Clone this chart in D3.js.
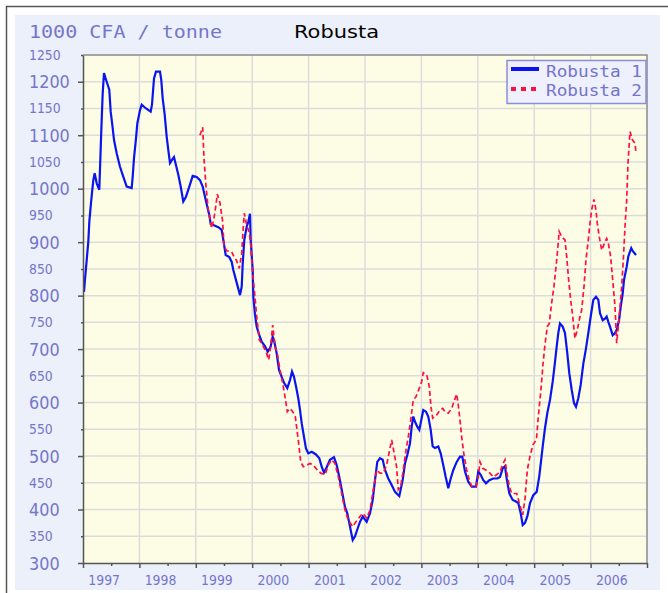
<!DOCTYPE html>
<html>
<head>
<meta charset="utf-8">
<script src="https://cdn.jsdelivr.net/npm/d3@7"></script>
<style>
  html, body { margin: 0; padding: 0; background: #ffffff; }
  svg { display: block; }
</style>
</head>
<body>
<svg id="chart" width="668" height="593"></svg>
<script>
// ---------- DATA ----------
const yTickValues = [300,350,400,450,500,550,600,650,700,750,800,850,900,950,1000,1050,1100,1150,1200,1250];
const yearLabels = ["1997","1998","1999","2000","2001","2002","2003","2004","2005","2006"];
const seriesNames = ["Robusta 1","Robusta 2"];

// Robusta 1 : time (decimal year) and value (1000 CFA / tonne)
const r1Time = [1997.018,1997.035,1997.066,1997.094,1997.112,1997.137,1997.160,1997.183,1997.207,1997.243,1997.289,1997.301,1997.324,1997.349,1997.372,1997.420,1997.466,1997.491,1997.527,1997.550,1997.598,1997.656,1997.715,1997.775,1997.863,1997.881,1997.904,1997.940,1997.963,1998.011,1998.041,1998.117,1998.200,1998.223,1998.259,1998.294,1998.365,1998.388,1998.413,1998.449,1998.484,1998.520,1998.543,1998.578,1998.613,1998.649,1998.690,1998.732,1998.778,1998.826,1998.885,1998.945,1999.016,1999.074,1999.122,1999.163,1999.204,1999.239,1999.264,1999.310,1999.399,1999.459,1999.488,1999.530,1999.594,1999.637,1999.665,1999.713,1999.784,1999.814,1999.832,1999.860,1999.902,1999.931,1999.961,1999.973,2000.009,2000.020,2000.050,2000.080,2000.126,2000.168,2000.227,2000.275,2000.328,2000.363,2000.392,2000.434,2000.475,2000.523,2000.569,2000.622,2000.670,2000.706,2000.741,2000.777,2000.817,2000.848,2000.878,2000.918,2000.954,2000.995,2001.055,2001.131,2001.190,2001.232,2001.273,2001.321,2001.379,2001.450,2001.498,2001.544,2001.587,2001.645,2001.686,2001.734,2001.782,2001.823,2001.871,2001.911,2001.959,2002.030,2002.089,2002.137,2002.177,2002.218,2002.266,2002.314,2002.355,2002.413,2002.473,2002.532,2002.608,2002.668,2002.709,2002.750,2002.798,2002.828,2002.856,2002.887,2002.927,2002.963,2003.005,2003.034,2003.082,2003.122,2003.165,2003.200,2003.241,2003.300,2003.342,2003.388,2003.431,2003.477,2003.520,2003.566,2003.626,2003.684,2003.725,2003.773,2003.831,2003.892,2003.968,2004.009,2004.051,2004.098,2004.145,2004.204,2004.275,2004.346,2004.394,2004.441,2004.482,2004.512,2004.559,2004.619,2004.677,2004.718,2004.761,2004.796,2004.837,2004.878,2004.926,2004.984,2005.044,2005.090,2005.151,2005.191,2005.232,2005.280,2005.328,2005.369,2005.399,2005.427,2005.457,2005.505,2005.546,2005.587,2005.622,2005.665,2005.706,2005.741,2005.782,2005.824,2005.871,2005.918,2005.959,2006.002,2006.048,2006.096,2006.137,2006.167,2006.215,2006.255,2006.285,2006.314,2006.344,2006.392,2006.433,2006.463,2006.504,2006.534,2006.569,2006.592,2006.640,2006.668,2006.720,2006.743,2006.805];
const r1Value = [807,830,867,901,938,968,993,1016,1029,1010,998,1036,1107,1178,1216,1200,1185,1144,1113,1091,1066,1041,1022,1004,1001,1022,1057,1094,1122,1147,1157,1150,1144,1157,1206,1219,1219,1203,1169,1138,1097,1066,1048,1054,1059,1044,1026,1004,976,985,1004,1024,1022,1016,1004,985,966,951,934,932,928,923,904,876,872,863,848,829,801,817,860,904,929,938,953,904,848,798,764,742,726,714,705,695,705,723,714,692,661,648,636,627,642,658,648,630,608,586,561,536,514,505,508,503,496,480,469,479,493,498,483,461,437,405,393,368,343,350,365,377,387,377,393,418,455,489,496,493,474,458,446,433,425,455,486,502,524,555,574,564,555,549,571,586,583,574,549,518,515,518,505,483,461,440,458,474,489,499,499,471,452,443,443,471,465,455,449,455,458,458,461,477,481,458,430,418,415,412,393,371,375,387,412,427,433,462,518,552,580,605,639,676,705,730,748,742,730,692,655,624,599,592,608,633,673,701,730,761,792,798,792,767,754,757,761,751,742,726,730,736,754,779,804,829,854,873,889,884,876];

// Robusta 2
const r2Time = [1999.074,1999.122,1999.145,1999.181,1999.222,1999.282,1999.323,1999.358,1999.381,1999.429,1999.477,1999.500,1999.548,1999.637,1999.677,1999.725,1999.771,1999.814,1999.842,1999.860,1999.902,1999.949,1999.973,2000.002,2000.032,2000.080,2000.126,2000.168,2000.245,2000.293,2000.328,2000.363,2000.404,2000.445,2000.493,2000.541,2000.582,2000.622,2000.670,2000.718,2000.764,2000.817,2000.860,2000.906,2000.966,2001.025,2001.083,2001.154,2001.215,2001.291,2001.349,2001.410,2001.468,2001.527,2001.587,2001.645,2001.704,2001.782,2001.840,2001.911,2001.959,2002.030,2002.089,2002.147,2002.207,2002.266,2002.324,2002.383,2002.413,2002.473,2002.518,2002.560,2002.590,2002.633,2002.679,2002.727,2002.767,2002.810,2002.856,2002.904,2002.963,2003.005,2003.034,2003.094,2003.140,2003.170,2003.200,2003.271,2003.330,2003.378,2003.418,2003.477,2003.537,2003.578,2003.626,2003.654,2003.684,2003.714,2003.755,2003.803,2003.849,2003.892,2003.968,2004.009,2004.039,2004.087,2004.158,2004.216,2004.275,2004.332,2004.394,2004.452,2004.482,2004.512,2004.559,2004.601,2004.690,2004.736,2004.796,2004.837,2004.878,2004.926,2004.981,2005.039,2005.074,2005.122,2005.157,2005.191,2005.232,2005.268,2005.309,2005.350,2005.387,2005.410,2005.443,2005.487,2005.546,2005.576,2005.606,2005.647,2005.683,2005.723,2005.764,2005.812,2005.842,2005.883,2005.918,2005.959,2005.989,2006.018,2006.059,2006.096,2006.119,2006.154,2006.197,2006.225,2006.255,2006.285,2006.314,2006.356,2006.392,2006.433,2006.463,2006.491,2006.521,2006.551,2006.580,2006.610,2006.640,2006.663,2006.699,2006.743,2006.787,2006.805];
const r2Value = [1100,1115,1057,1004,960,926,945,970,990,973,938,892,884,882,873,865,851,879,929,954,932,917,898,848,817,761,717,711,695,680,705,745,705,692,661,636,611,583,589,583,574,530,489,480,483,486,483,474,468,465,483,493,486,461,430,399,380,368,377,387,393,384,399,437,474,468,468,483,499,530,505,480,437,443,474,511,536,567,605,611,627,639,656,652,630,592,571,577,586,589,583,580,589,602,616,595,567,536,502,474,455,443,443,461,489,477,473,468,461,465,471,487,493,471,443,430,430,412,390,420,474,500,522,530,575,627,673,708,742,748,786,817,854,879,920,910,904,873,835,792,761,720,736,761,773,817,867,904,935,960,980,960,935,910,885,892,901,907,898,873,829,779,711,742,779,817,867,929,979,1047,1107,1091,1085,1068];

// ---------- LAYOUT ----------
const W = 668, H = 593;
const plot = { left: 83, right: 647, top: 55, bottom: 563 };
const colPanel = "#ecf0fa", colPlot = "#fdfde6", colGrid = "#dcdcdc";
const colLabel = "#7575cc";

const svg = d3.select("#chart");

const x = d3.scaleLinear().domain([1997, 2007]).range([plot.left, plot.right]);
const y = d3.scaleLinear().domain([300, 1250]).range([plot.bottom, plot.top]);

// outer frame and panel
svg.append("rect").attr("x", 0).attr("y", 0).attr("width", W).attr("height", H).attr("fill", "#ffffff");
svg.append("rect").attr("x", 6.5).attr("y", 6.5).attr("width", W + 20).attr("height", H + 20)
  .attr("fill", "#ffffff").attr("stroke", "#555555").attr("stroke-width", 1.5);
svg.append("rect").attr("x", 15).attr("y", 15).attr("width", 645).attr("height", 575).attr("fill", colPanel);

// plot background
svg.append("rect").attr("x", plot.left).attr("y", plot.top)
  .attr("width", plot.right - plot.left).attr("height", plot.bottom - plot.top).attr("fill", colPlot);

// grid
const grid = svg.append("g");
grid.selectAll("line.h").data(yTickValues.filter(v => v > 300 && v < 1250)).enter().append("line")
  .attr("x1", plot.left).attr("x2", plot.right)
  .attr("y1", d => y(d)).attr("y2", d => y(d))
  .attr("stroke", colGrid).attr("stroke-width", 1.5);
const yearBounds = d3.range(1998, 2007);
grid.selectAll("line.v").data(yearBounds).enter().append("line")
  .attr("y1", plot.top).attr("y2", plot.bottom)
  .attr("x1", d => x(d)).attr("x2", d => x(d))
  .attr("stroke", colGrid).attr("stroke-width", 1.5);

// top / right border
svg.append("path")
  .attr("d", `M${plot.left},${plot.top}H${plot.right}V${plot.bottom}`)
  .attr("fill", "none").attr("stroke", "#8a8a8a").attr("stroke-width", 1.5);

// lines
const line = d3.line().x(d => x(d[0])).y(d => y(d[1]));
const r1 = r1Time.map((t, i) => [t, r1Value[i]]);
const r2 = r2Time.map((t, i) => [t, r2Value[i]]);

svg.append("clipPath").attr("id", "clip").append("rect")
  .attr("x", plot.left).attr("y", plot.top).attr("width", plot.right - plot.left).attr("height", plot.bottom - plot.top);

svg.append("path").datum(r1).attr("d", line)
  .attr("fill", "none").attr("stroke", "#0a14f0").attr("stroke-width", 2.2)
  .attr("stroke-linejoin", "miter").attr("clip-path", "url(#clip)");
svg.append("path").datum(r2).attr("d", line)
  .attr("fill", "none").attr("stroke", "#ff1040").attr("stroke-width", 1.7)
  .attr("stroke-dasharray", "5,3").attr("clip-path", "url(#clip)");

// axes (left and bottom)
const yAxis = d3.axisLeft(y).tickValues(yTickValues).tickFormat("").tickSizeOuter(0).tickSize(0);
const gy = svg.append("g").attr("transform", `translate(${plot.left},0)`).call(yAxis);
gy.select(".domain").attr("stroke", "#555555").attr("stroke-width", 1.5);
gy.selectAll(".tick line").attr("x2", d => (d % 100 === 0 ? -5 : -2))
  .attr("stroke", "#555555").attr("stroke-width", 1.5);

const halfYears = d3.range(0, 21).map(i => 1997 + i * 0.5);
const xAxis = d3.axisBottom(x).tickValues(halfYears).tickFormat("").tickSizeOuter(0).tickSize(0);
const gx = svg.append("g").attr("transform", `translate(0,${plot.bottom})`).call(xAxis);
gx.select(".domain").attr("stroke", "#555555").attr("stroke-width", 1.5);
gx.selectAll(".tick line").attr("y2", d => (Number.isInteger(d) ? 5 : 3))
  .attr("stroke", "#555555").attr("stroke-width", 1.5);

// y labels (left-aligned)
svg.append("g").selectAll("text").data(yTickValues).enter().append("text")
  .attr("x", 29)
  .attr("y", d => y(d) + (d % 100 === 0 ? 6.6 : 5))
  .attr("font-family", "DejaVu Sans, Verdana, sans-serif")
  .attr("font-size", d => (d % 100 === 0 ? 17.5 : 13.5))
  .attr("fill", colLabel)
  .attr("textLength", d => String(d).length * (d % 100 === 0 ? 10.2 : 7.9))
  .attr("lengthAdjust", "spacingAndGlyphs")
  .text(d => d);

// x labels
svg.append("g").selectAll("text").data(yearLabels).enter().append("text")
  .attr("x", d => x(+d) + 5.3)
  .attr("y", 585)
  .attr("font-family", "DejaVu Sans, Verdana, sans-serif")
  .attr("font-size", 14.5)
  .attr("fill", colLabel)
  .attr("textLength", 31.7)
  .attr("lengthAdjust", "spacingAndGlyphs")
  .text(d => d);

// titles
svg.append("text").attr("x", 29).attr("y", 37.5)
  .attr("font-family", "DejaVu Sans Mono, monospace").attr("font-size", 17)
  .attr("fill", colLabel).attr("textLength", 193).attr("lengthAdjust", "spacingAndGlyphs")
  .text("1000 CFA / tonne");
svg.append("text").attr("x", 294).attr("y", 37.7)
  .attr("font-family", "DejaVu Sans, sans-serif").attr("font-size", 17)
  .attr("fill", "#000000").attr("textLength", 85).attr("lengthAdjust", "spacingAndGlyphs")
  .text("Robusta");

// legend
const lg = svg.append("g");
lg.append("rect").attr("x", 507).attr("y", 60.5).attr("width", 139).attr("height", 43)
  .attr("fill", "#eef0fb").attr("stroke", "#8c8cdc").attr("stroke-width", 1.5);
lg.append("line").attr("x1", 511).attr("x2", 539).attr("y1", 69).attr("y2", 69)
  .attr("stroke", "#0a14f0").attr("stroke-width", 4);
lg.append("line").attr("x1", 511).attr("x2", 540).attr("y1", 89).attr("y2", 89)
  .attr("stroke", "#ff1040").attr("stroke-width", 4).attr("stroke-dasharray", "5,5");
lg.selectAll("text").data(seriesNames).enter().append("text")
  .attr("x", 546).attr("y", (d, i) => 77 + i * 19)
  .attr("font-family", "DejaVu Sans Mono, monospace").attr("font-size", 15)
  .attr("fill", "#7474cc").attr("textLength", 96).attr("lengthAdjust", "spacingAndGlyphs")
  .text(d => d);
</script>
</body>
</html>
